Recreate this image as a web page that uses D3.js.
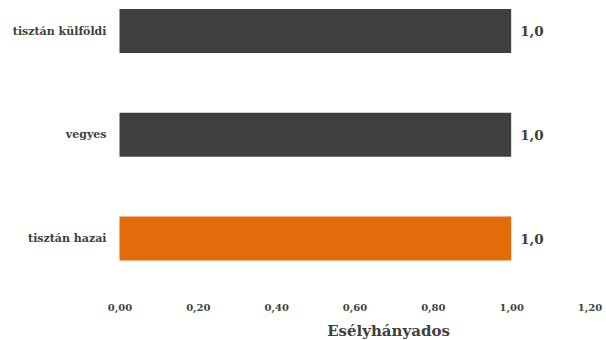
<!DOCTYPE html>
<html><head><meta charset="utf-8">
<script src="https://cdn.jsdelivr.net/npm/d3@7"></script>
<style>body{margin:0;background:#fff}svg{display:block}</style>
</head><body>
<script>
const categories = ["tisztán külföldi", "vegyes", "tisztán hazai"];
const values = [1.0, 1.0, 1.0];
const barColors = ["#404040", "#404040", "#E36C0A"];
const tickValues = [0, 0.2, 0.4, 0.6, 0.8, 1.0, 1.2];
const axisTitle = "Esélyhányados";

const FONT = "'DejaVu Serif', serif";
const W = 606, H = 340;
const svg = d3.select("body").append("svg").attr("width", W).attr("height", H)
  .attr("font-family", FONT).attr("font-weight", "bold");
const x = d3.scaleLinear().domain([0, 1.2]).range([119.5, 589.5]);
const y = d3.scaleBand().domain(categories).range([9, 260.5]).paddingInner(0.576).paddingOuter(0);
const fmt2 = d => d.toFixed(2).replace(".", ",");
const fmt1 = d => d.toFixed(1).replace(".", ",");

svg.selectAll("rect.bar").data(categories).enter().append("rect")
  .attr("class", "bar")
  .attr("x", x(0))
  .attr("y", d => y(d))
  .attr("width", (d, i) => x(values[i]) - x(0))
  .attr("height", y.bandwidth())
  .attr("fill", (d, i) => barColors[i]);

svg.selectAll("text.val").data(categories).enter().append("text")
  .attr("class", "val")
  .attr("x", (d, i) => x(values[i]) + 9)
  .attr("y", d => y(d) + y.bandwidth() / 2 + 5)
  .attr("fill", "#404040")
  .attr("font-size", 13.5)
  .text((d, i) => fmt1(values[i]));

const yAxis = svg.append("g").attr("transform", `translate(${x(0)},0)`)
  .call(d3.axisLeft(y).tickSize(0).tickPadding(13));
yAxis.attr("font-family", FONT).attr("font-size", 11);
yAxis.select(".domain").remove();
yAxis.selectAll("text").attr("fill", "#404040");

const xAxis = svg.append("g").attr("transform", `translate(0,296)`)
  .call(d3.axisBottom(x).tickValues(tickValues).tickFormat(fmt2).tickSize(0).tickPadding(8));
xAxis.attr("font-family", FONT).attr("font-size", 10);
xAxis.select(".domain").remove();
xAxis.selectAll("text").attr("fill", "#404040");

svg.append("text").attr("x", 388.5).attr("y", 336).attr("text-anchor", "middle")
  .attr("fill", "#404040").attr("font-size", 15).text(axisTitle);
</script>
</body></html>
